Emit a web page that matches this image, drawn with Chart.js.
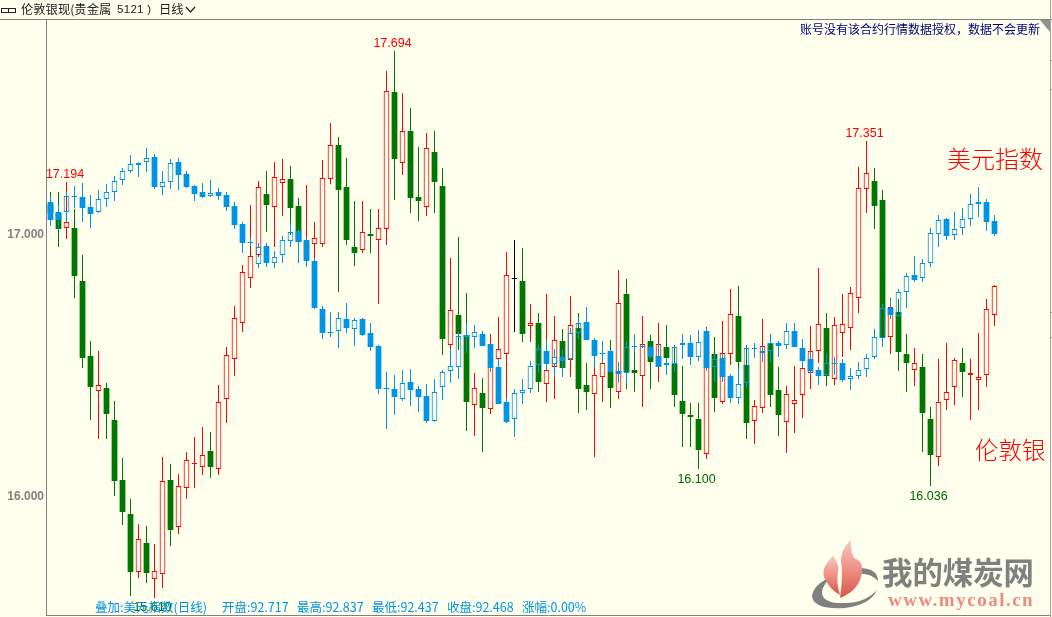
<!DOCTYPE html>
<html><head><meta charset="utf-8">
<script src="https://cdn.jsdelivr.net/npm/chart.js@4"></script>
<style>
html,body{margin:0;padding:0;background:#ffffee;width:1052px;height:617px;overflow:hidden}
canvas{position:absolute;left:0;top:0;display:block}
.t{position:absolute;white-space:nowrap;line-height:1;font-family:"Noto Sans CJK SC","Liberation Sans",sans-serif}
.d{position:absolute;background:#808080}
</style></head><body>
<canvas id="c" width="1052" height="617"></canvas>
<div class="d" style="left:0;top:19px;width:1052px;height:1px"></div>
<div class="d" style="left:1050px;top:0;width:1px;height:617px;background:#a0a0a0"></div>
<div class="d" style="left:1051px;top:60px;width:1px;height:1px"></div>
<div class="d" style="left:1051px;top:89px;width:1px;height:1px"></div>
<div class="d" style="left:1051px;top:312px;width:1px;height:1px"></div>
<div class="d" style="left:1051px;top:337px;width:1px;height:1px"></div>
<svg style="position:absolute;left:0;top:0" width="1052" height="617">
<polygon points="1040,20 1050,20 1050,32" fill="#909090"/>
<g fill="none" stroke="#222" stroke-width="1"><rect x="1.5" y="8.5" width="7" height="4"/><rect x="8.5" y="8.5" width="7" height="4"/></g>
<path d="M186 7 L190.5 12 L195 7" fill="none" stroke="#222" stroke-width="1.3"/>
<defs><linearGradient id="fl" x1="0" y1="0" x2="0" y2="1"><stop offset="0" stop-color="#f6c9bf"/><stop offset=".55" stop-color="#ee8b80"/><stop offset="1" stop-color="#d9534a"/></linearGradient></defs>
<path d="M834 575 Q812 585 812 597 Q815 610 845 608 Q870 605 877 590 Q865 603 845 603 Q822 604 822 592 Q823 583 834 575Z" fill="#808080"/>
<path d="M858 568 Q878 568 878 581 Q870 572 856 574Z" fill="#808080"/>
<path d="M833 556 Q821 567 824 577 Q830 590 840 595 Q836 582 838 572 Q840 565 833 556Z" fill="url(#fl)"/>
<path d="M851 540 Q838 552 842 568 Q842 585 840 598 Q860 590 862 572 Q863 560 854 558 Q850 550 851 540Z" fill="url(#fl)"/>
</svg>
<div class="t" style="left:21px;top:3px;font-size:12.3px;color:#222">伦敦银现(贵金属</div>
<div class="t" style="left:117px;top:4px;font-size:11.5px;letter-spacing:.3px;color:#222;font-family:'Liberation Sans'">5121 )</div>
<div class="t" style="left:159px;top:3px;font-size:12.3px;color:#222">日线</div>
<div class="t" style="left:800px;top:23px;font-size:12px;color:#000080">账号没有该合约行情数据授权&#xFF0C;数据不会更新</div>
<div class="t" style="left:947px;top:146px;font-size:24px;font-weight:300;color:#ff0000">美元指数</div>
<div class="t" style="left:975px;top:438px;font-size:23.5px;font-weight:300;color:#ff0000">伦敦银</div>
<div class="t" style="left:95px;top:601px;font-size:12.5px;color:#0094e4">叠加:美元指数(日线)</div>
<div class="t" style="left:222px;top:601px;font-size:12.5px;color:#0094e4">开盘:92.717</div>
<div class="t" style="left:297px;top:601px;font-size:12.5px;color:#0094e4">最高:92.837</div>
<div class="t" style="left:372px;top:601px;font-size:12.5px;color:#0094e4">最低:92.437</div>
<div class="t" style="left:447px;top:601px;font-size:12.5px;color:#0094e4">收盘:92.468</div>
<div class="t" style="left:522px;top:601px;font-size:12.5px;color:#0094e4">涨幅:0.00%</div>
<div class="t" style="left:882px;top:556px;font-size:30.4px;font-weight:700;color:#808080">我的煤炭网</div>
<div class="t" style="left:888px;top:590px;font-size:19px;font-weight:700;color:#f08a80;font-family:'Liberation Serif',serif;letter-spacing:1.5px">www.mycoal.cn</div>
<script>
const silverOpen=[17.107,17.076,17.019,17.019,16.817,16.532,16.398,16.410,16.288,16.059,
15.930,15.709,15.819,15.682,15.701,16.059,15.880,16.029,16.120,16.109,
16.170,16.101,16.368,16.520,16.657,16.829,16.916,17.149,17.099,17.191,
17.206,17.103,16.905,16.958,16.958,17.206,17.336,17.176,16.947,16.935,
16.996,16.974,17.015,17.537,17.267,17.389,17.137,17.099,17.309,17.179,
16.574,16.688,16.612,16.345,16.391,16.330,16.520,16.539,16.829,16.817,
16.646,16.657,16.425,16.490,16.589,16.516,16.638,16.421,16.387,16.452,
16.471,16.394,16.768,16.478,16.455,16.589,16.490,16.566,16.501,16.360,
16.307,16.292,16.158,16.539,16.356,16.539,16.684,16.497,16.284,16.334,
16.581,16.402,16.280,16.349,16.383,16.467,16.551,16.638,16.444,16.619,
16.638,16.753,17.168,17.198,17.126,16.604,16.699,16.539,16.478,16.490,
16.292,16.147,16.364,16.413,16.505,16.459,16.440,16.459,16.688];
const silverHigh=[17.156,17.156,17.194,17.092,16.916,16.589,16.551,16.429,16.360,16.143,
15.987,15.892,15.884,15.815,16.147,16.120,16.082,16.166,16.223,16.261,
16.242,16.421,16.566,16.722,16.878,17.107,17.198,17.236,17.271,17.282,
17.256,17.134,17.183,17.042,17.278,17.419,17.366,17.286,17.122,17.122,
17.092,17.092,17.617,17.694,17.534,17.476,17.328,17.381,17.389,17.248,
16.905,16.985,16.772,16.467,16.448,16.615,16.680,16.928,16.974,16.943,
16.730,16.695,16.768,16.684,16.635,16.760,16.695,16.505,16.520,16.535,
16.593,16.859,16.825,16.543,16.684,16.612,16.657,16.650,16.574,16.493,
16.353,16.353,16.642,16.604,16.665,16.787,16.798,16.574,16.364,16.672,
16.615,16.490,16.417,16.493,16.509,16.646,16.867,16.695,16.680,16.768,
16.794,17.252,17.351,17.248,17.164,16.753,16.749,16.615,16.562,16.539,
16.337,16.520,16.581,16.524,16.562,16.520,16.619,16.749,16.802];
const silverLow=[17.069,16.947,16.977,16.753,16.486,16.288,16.215,16.215,15.998,15.888,
15.617,15.686,15.667,15.610,15.648,15.808,15.853,15.987,16.029,16.078,
16.067,16.078,16.276,16.455,16.623,16.791,16.909,17.004,16.947,17.065,
16.993,16.962,16.897,16.905,16.947,17.187,16.775,16.955,16.875,16.924,
16.924,16.730,16.955,17.126,17.221,17.076,17.046,17.065,17.076,16.535,
16.554,16.554,16.246,16.227,16.166,16.311,16.490,16.353,16.623,16.585,
16.585,16.394,16.356,16.368,16.478,16.452,16.314,16.326,16.147,16.356,
16.334,16.368,16.406,16.394,16.337,16.406,16.433,16.490,16.337,16.185,
16.185,16.100,16.139,16.318,16.349,16.497,16.482,16.215,16.196,16.314,
16.337,16.227,16.162,16.238,16.295,16.406,16.505,16.417,16.421,16.528,
16.554,16.695,17.076,17.015,16.593,16.539,16.474,16.394,16.417,16.166,
16.036,16.112,16.326,16.345,16.375,16.288,16.326,16.413,16.646];
const silverClose=[17.076,17.015,17.042,16.836,16.524,16.413,16.421,16.311,16.055,15.937,
15.709,15.834,15.705,15.713,16.055,15.869,16.036,16.135,16.122,16.154,
16.109,16.356,16.535,16.676,16.852,16.913,17.176,17.107,17.214,17.206,
17.096,16.966,16.966,16.981,17.210,17.336,17.164,16.974,16.924,17.004,
16.989,17.019,17.541,17.282,17.389,17.134,17.122,17.324,17.195,16.596,
16.707,16.615,16.356,16.410,16.334,16.490,16.558,16.840,16.829,16.615,
16.657,16.433,16.478,16.593,16.486,16.650,16.406,16.394,16.459,16.505,
16.410,16.734,16.471,16.467,16.577,16.509,16.577,16.524,16.383,16.311,
16.299,16.173,16.615,16.372,16.543,16.692,16.509,16.276,16.341,16.570,
16.383,16.307,16.387,16.364,16.486,16.551,16.654,16.455,16.650,16.654,
16.772,17.172,17.229,17.103,16.600,16.718,16.547,16.505,16.505,16.314,
16.154,16.356,16.394,16.516,16.471,16.467,16.452,16.711,16.798];
const usdOpen=[93.08,92.89,92.89,93.19,93.18,92.98,92.89,93.14,93.27,93.50,
93.67,93.79,93.85,93.94,93.37,93.46,93.85,93.62,93.39,93.27,
93.20,93.27,93.21,93.00,92.66,92.31,91.89,92.24,91.91,92.07,
92.33,92.52,92.35,91.95,91.03,90.59,90.61,90.84,90.65,90.84,
90.57,90.32,89.52,89.50,89.31,89.63,89.50,89.36,88.89,89.54,
89.84,89.92,90.53,90.49,90.55,90.36,89.92,89.25,88.92,89.42,
89.50,89.96,90.23,89.98,90.11,90.07,90.57,90.78,90.44,90.19,
90.23,89.84,89.80,90.32,90.30,90.30,90.13,89.96,89.98,90.34,
90.38,90.11,90.61,89.92,90.09,89.75,89.33,89.61,90.28,90.19,
90.23,90.38,90.34,90.61,90.28,90.07,89.86,89.77,90.00,90.00,
89.69,89.75,89.88,90.11,90.48,91.05,90.90,91.36,91.68,91.62,
91.91,92.47,92.75,92.45,92.58,92.75,93.08,93.08,92.717];
const usdHigh=[93.20,93.02,93.27,93.39,93.44,93.21,93.31,93.42,93.58,93.73,
93.98,93.85,94.11,94.00,93.67,93.90,93.92,93.67,93.41,93.44,
93.50,93.35,93.27,93.08,92.70,92.39,92.30,92.30,92.14,92.43,
92.68,92.56,92.39,92.01,91.09,90.97,90.97,91.15,90.86,90.86,
90.76,90.34,89.83,89.77,89.86,89.88,89.56,89.59,89.69,89.86,
90.26,90.59,90.76,90.72,90.61,90.36,90.07,89.33,89.50,89.69,
90.03,90.34,90.44,90.26,90.26,90.67,90.86,91.07,90.48,90.42,
90.24,90.02,90.42,90.55,90.36,90.34,90.36,90.09,90.32,90.55,
90.53,90.63,90.67,90.17,90.19,89.79,89.88,90.34,90.38,90.32,
90.53,90.42,90.76,90.76,90.46,90.23,89.92,90.17,90.11,90.07,
89.90,90.02,90.17,90.65,91.13,91.22,91.42,91.72,92.05,91.99,
92.58,92.83,92.77,92.89,92.97,93.23,93.37,93.14,92.837];
const usdLow=[92.62,92.54,92.70,92.97,92.70,92.58,92.87,92.98,93.10,93.41,
93.64,93.56,93.65,93.33,93.21,93.33,93.31,93.35,93.10,93.16,
93.18,93.12,92.91,92.56,92.10,92.24,91.82,91.84,91.82,91.91,
92.22,91.91,91.84,91.03,90.46,90.49,90.28,90.57,90.32,90.51,
90.23,89.40,88.73,89.00,89.27,89.17,89.06,88.85,88.87,89.29,
89.61,89.69,90.19,90.28,90.32,89.82,89.21,88.85,88.58,89.21,
89.42,89.80,89.86,89.73,89.73,90.05,90.46,90.44,89.92,90.00,
89.82,89.61,89.61,90.19,90.28,90.09,89.92,89.77,89.82,90.07,
89.96,90.03,89.84,89.63,89.63,89.23,89.21,89.52,90.09,90.02,
90.02,90.11,90.26,90.30,89.90,89.77,89.57,89.75,89.77,89.63,
89.48,89.69,89.73,90.07,90.30,90.84,90.88,91.05,91.55,91.55,
91.84,92.22,92.35,92.35,92.45,92.62,92.79,92.52,92.437];
const usdClose=[92.74,92.74,93.19,93.20,92.97,92.85,93.14,93.27,93.48,93.67,
93.81,93.83,93.92,93.37,93.46,93.83,93.60,93.37,93.23,93.18,
93.25,93.20,92.98,92.64,92.30,92.31,92.22,91.91,92.03,92.35,
92.51,92.31,91.95,91.05,90.57,90.59,90.86,90.67,90.82,90.53,
90.30,89.50,89.52,89.34,89.61,89.48,89.34,88.89,89.44,89.82,
89.94,90.51,90.49,90.59,90.32,89.90,89.21,88.87,89.42,89.48,
89.94,90.26,89.98,90.11,90.03,90.57,90.76,90.44,90.13,90.18,
89.82,89.79,90.30,90.33,90.32,90.11,89.92,90.00,90.30,90.38,
90.11,90.40,89.90,90.07,89.73,89.33,89.59,90.28,90.29,90.23,
90.38,90.32,90.61,90.30,90.03,89.84,89.75,90.00,90.00,89.67,
89.75,89.86,90.09,90.49,91.05,90.92,91.36,91.66,91.59,91.91,
92.49,92.73,92.43,92.56,92.75,93.04,93.04,92.70,92.468];
const silverTicks=[17,16];
const peakLabels=[{i:2,v:17.194,up:true},{i:43,v:17.694,up:true},{i:102,v:17.351,up:true},{i:81,v:16.100,up:false},{i:110,v:16.036,up:false},{i:13,v:15.610,up:false}];

const RED='#ff0000',GREEN='#007800',BLUE='#0094e4',BLACK='#000000';
function silverColor(o,c){return c>o?RED:c<o?GREEN:BLACK}
function candleSets(open,high,low,close,axis,colorOf,hollowOf,order){
  const col=open.map((o,i)=>colorOf(o,close[i]));
  const hollow=open.map((o,i)=>hollowOf(o,close[i]));
  const wick={type:'bar',yAxisID:axis,order,grouped:false,maxBarThickness:1,inflateAmount:0,borderWidth:0,backgroundColor:col};
  return [
    {...wick,data:open.map((o,i)=>({x:i,y:[Math.max(o,close[i]),high[i]]}))},
    {...wick,data:open.map((o,i)=>({x:i,y:[low[i],Math.min(o,close[i])]}))},
    {type:'bar',yAxisID:axis,order:order-1,grouped:false,maxBarThickness:7,inflateAmount:0,borderSkipped:false,
     data:open.map((o,i)=>({x:i,y:[o,close[i]]})),
     backgroundColor:col.map((c,i)=>hollow[i]?'rgba(0,0,0,0)':c),
     borderColor:col,borderWidth:hollow.map(h=>h?1:0)}
  ];
}
const crisp={id:'crisp',afterDatasetsUpdate(ch){
  ch.data.datasets.forEach((d,k)=>{
    const isBody=d.maxBarThickness===7;
    ch.getDatasetMeta(k).data.forEach(el=>{
      let y=Math.round(el.y),b=Math.round(el.base);
      if(y===b){ if(isBody) b=y+1; }
      el.y=y;el.base=b;el.height=b-y;
    });
  });
}};
const labelsPlugin={id:'peaks',afterDraw(ch){
  const c=ch.ctx,xs=ch.scales.x,ys=ch.scales.y;
  c.save();c.textAlign='center';c.textBaseline='middle';c.font='12.5px "Liberation Sans"';
  peakLabels.forEach(p=>{
    c.fillStyle=p.up?'#ff0000':'#006600';
    const px=xs.getPixelForValue(p.i)-2,py=ys.getPixelForValue(p.v)+(p.up?-7.5:10);
    c.fillText(p.v.toFixed(3),Math.max(px,65),py);
  });
  c.restore();
}};
new Chart(document.getElementById('c'),{
  type:'bar',
  data:{datasets:[
    ...candleSets(usdOpen,usdHigh,usdLow,usdClose,'y2',()=>BLUE,(o,c)=>c>o,10),
    ...candleSets(silverOpen,silverHigh,silverLow,silverClose,'y',silverColor,(o,c)=>c>=o,20)
  ]},
  plugins:[crisp,labelsPlugin],
  options:{
    responsive:false,animation:false,devicePixelRatio:1,
    layout:{padding:{top:20,right:2,left:0,bottom:0}},
    plugins:{legend:{display:false},tooltip:{enabled:false},title:{display:false}},
    events:[],
    scales:{
      x:{type:'linear',min:-0.5625,max:124.9375,offset:false,
         grid:{display:false},ticks:{display:false},border:{color:'#808080'},
         afterFit:s=>{s.height=2;s.paddingLeft=0;s.paddingRight=0}},
      y:{position:'left',min:15.5448,max:17.8114,
         grid:{display:false,drawTicks:false},border:{color:'#808080'},
         afterBuildTicks:s=>{s.ticks=silverTicks.map(v=>({value:v}))},
         ticks:{color:'#808080',padding:2,labelOffset:1.5,font:{family:'Liberation Sans',size:12,weight:'bold'},callback:v=>Number(v).toFixed(3)},
         afterFit:s=>{s.width=46;s.paddingTop=0;s.paddingBottom=0}},
      y2:{display:false,position:'right',min:85.1691,max:96.5675}
    }
  }
});
</script>
</body></html>
